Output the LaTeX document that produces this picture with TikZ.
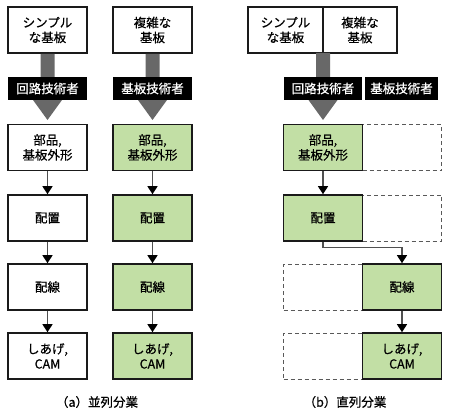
\documentclass[tikz,border=0pt]{standalone}
\usepackage{fontspec}
\setmainfont{Noto Sans CJK JP}[FakeBold=0.5]
\usetikzlibrary{arrows.meta,calc}
\definecolor{pgreen}{HTML}{C2DFA5}
\definecolor{bigarrow}{HTML}{686868}
\definecolor{lnk}{HTML}{505050}
\definecolor{boxline}{HTML}{1A1A1A}
\tikzset{
  flowbox/.style={draw=boxline, line width=1.6pt, minimum width=79pt, minimum height=46pt,
    align=center, inner sep=0pt, font=\fontsize{12.5}{15}\selectfont},
  greenbox/.style={flowbox, fill=pgreen},
  dashbox/.style={draw=black!65, dash pattern=on 4pt off 3pt, line width=1pt,
    minimum width=79pt, minimum height=46pt, inner sep=0pt},
  rolebox/.style={fill=black, text=white, minimum height=23pt, inner sep=0pt,
    font=\fontsize{12.5}{15}\selectfont},
  lnkarrow/.style={draw=lnk, line width=1.3pt, -{Triangle[width=10pt,length=8pt,color=black]}},
  captext/.style={font=\fontsize{12.5}{15}\selectfont}
}
\newcommand{\bigarr}[3]{% start, head base, tip
  \fill[bigarrow] ($(#1)+(-7,0)$) -- ($(#2)+(-7,0)$) -- ($(#2)+(-14.5,0)$) -- (#3)
    -- ($(#2)+(14.5,0)$) -- ($(#2)+(7,0)$) -- ($(#1)+(7,0)$) -- cycle;}
\begin{document}
\begin{tikzpicture}[x=1pt,y=-1pt]
\useasboundingbox (0,0) rectangle (450,412);

% ---------- (a) parallel ----------
\node[flowbox] (a1) at (47.5,30) {シンプル\\な基板};
\node[flowbox] (b1) at (152.5,30) {複雑な\\基板};

\coordinate (a1h) at (47.5,100);
\coordinate (a1t) at (47.5,120);
\coordinate (b1h) at (152.5,100);
\coordinate (b1t) at (152.5,120);
\bigarr{a1.south}{a1h}{a1t}
\bigarr{b1.south}{b1h}{b1t}

\node[rolebox, minimum width=79pt] (ra) at (47.5,88.5) {回路技術者};
\node[rolebox, minimum width=79pt] (rb) at (152.5,88.5) {基板技術者};

\node[flowbox] (a2) at (47.5,147.5) {部品,\\基板外形};
\node[flowbox] (a3) at (47.5,218) {配置};
\node[flowbox] (a4) at (47.5,287) {配線};
\node[flowbox] (a5) at (47.5,356) {しあげ,\\CAM};

\node[greenbox] (b2) at (152.5,147.5) {部品,\\基板外形};
\node[greenbox] (b3) at (152.5,218) {配置};
\node[greenbox] (b4) at (152.5,287) {配線};
\node[greenbox] (b5) at (152.5,356) {しあげ,\\CAM};

\draw[lnkarrow] (a2) -- (a3);
\draw[lnkarrow] (a3) -- (a4);
\draw[lnkarrow] (a4) -- (a5);
\draw[lnkarrow] (b2) -- (b3);
\draw[lnkarrow] (b3) -- (b4);
\draw[lnkarrow] (b4) -- (b5);

\node[captext] (capa) at (97,402) {（a）並列分業};

% ---------- (b) serial ----------
\node[flowbox, minimum width=75pt] (c1) at (285.5,30) {シンプル\\な基板};
\node[flowbox, minimum width=74pt] (d1) at (360,30) {複雑な\\基板};

\coordinate (cs) at (323,53);
\coordinate (ch) at (323,100);
\coordinate (ct) at (323,120);
\bigarr{cs}{ch}{ct}

\node[rolebox, minimum width=78pt] (rc) at (323,88.5) {回路技術者};
\node[rolebox, minimum width=73pt] (rd) at (401.5,88.5) {基板技術者};

\node[dashbox] (e2) at (402,147.5) {};
\node[dashbox] (e3) at (402,218) {};
\node[dashbox] (e4) at (323,287) {};
\node[dashbox] (e5) at (323,356) {};

\node[greenbox] (c2) at (323,147.5) {部品,\\基板外形};
\node[greenbox] (c3) at (323,218) {配置};
\node[greenbox] (d4) at (402,287) {配線};
\node[greenbox] (d5) at (402,356) {しあげ,\\CAM};

\draw[lnkarrow] (c2) -- (c3);
\draw[lnkarrow] (c3.south) -- ++(0,6) -| (d4.north);
\draw[lnkarrow] (d4) -- (d5);

\node[captext] (capb) at (345,402) {（b）直列分業};
\end{tikzpicture}
\end{document}
